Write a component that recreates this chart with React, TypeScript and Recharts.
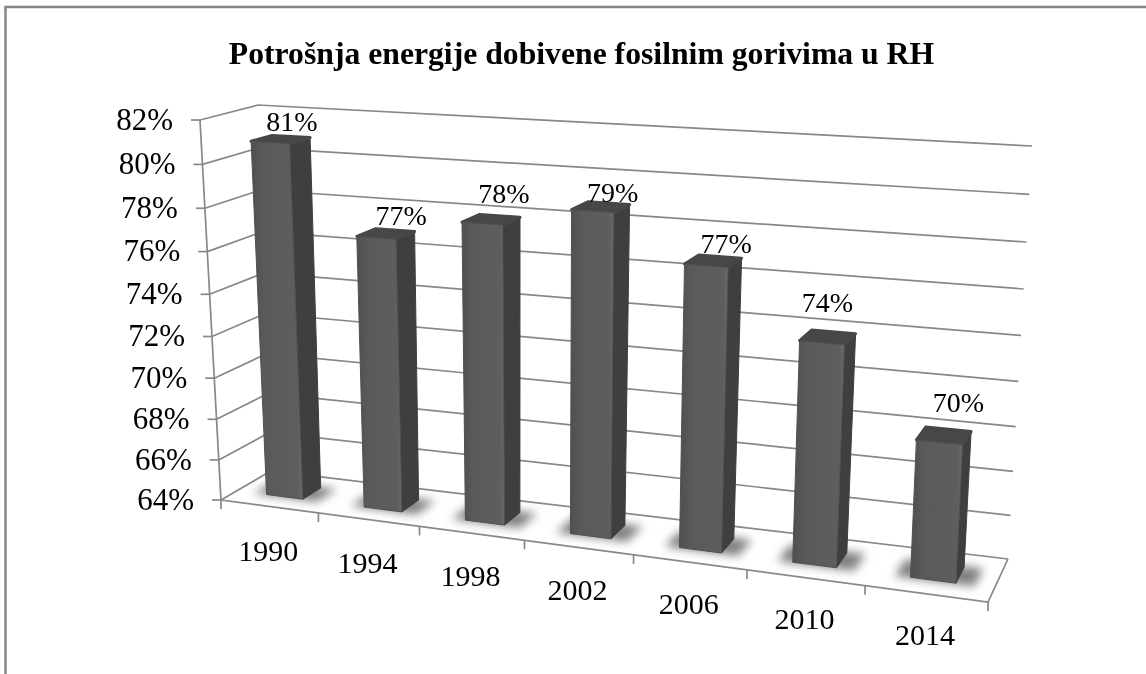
import React from 'react';
import { BarChart, Bar, XAxis, YAxis, CartesianGrid, LabelList } from 'recharts';

const years = ['1990', '1994', '1998', '2002', '2006', '2010', '2014'];
const shares = [80.9, 76.9, 77.9, 78.8, 76.8, 73.9, 70.1];
const yTicks = [64, 66, 68, 70, 72, 74, 76, 78, 80, 82];

const chartData = years.map((year, i) => ({ year, share: shares[i] }));

const W = 1146;
const H = 674;
// flat plot box that recharts scales into, we then project it onto the 3d box
const PLOT = { left: 100, top: 100, width: 800, height: 400 };
const LINE = '#888888';
const DEPTH_FRONT = 0.31;
const DEPTH_BACK = 0.68;

type Pt = [number, number];

// unit square -> quad homography
const quadMap = (p0: Pt, p1: Pt, p2: Pt, p3: Pt) => {
  const dx1 = p1[0] - p2[0];
  const dx2 = p3[0] - p2[0];
  const sx = p0[0] - p1[0] + p2[0] - p3[0];
  const dy1 = p1[1] - p2[1];
  const dy2 = p3[1] - p2[1];
  const sy = p0[1] - p1[1] + p2[1] - p3[1];
  const den = dx1 * dy2 - dx2 * dy1;
  const g = (sx * dy2 - dx2 * sy) / den;
  const h = (dx1 * sy - sx * dy1) / den;
  const a = p1[0] - p0[0] + g * p1[0];
  const b = p3[0] - p0[0] + h * p3[0];
  const d = p1[1] - p0[1] + g * p1[1];
  const e = p3[1] - p0[1] + h * p3[1];
  return (u: number, w: number): Pt => {
    const q = g * u + h * w + 1;
    return [(a * u + b * w + p0[0]) / q, (d * u + e * w + p0[1]) / q];
  };
};

const floorAt = quadMap([221, 500], [988, 602], [1008, 559], [271, 471]);
const ceilAt = quadMap([200, 120], [1009, 168], [1032, 146], [258, 105]);

const project = (uFlat: number, v: number, d: number): Pt => {
  const s = 1.133;
  const u = (s * uFlat) / (1 + (s - 1) * uFlat);
  const k = 0.944;
  const t = (k * v) / (1 + (k - 1) * v);
  const f = floorAt(u, d);
  const c = ceilAt(u, d);
  return [f[0] + (c[0] - f[0]) * t, f[1] + (c[1] - f[1]) * t];
};

const toU = (x: number) => (x - PLOT.left) / PLOT.width;
const toV = (y: number) => (PLOT.top + PLOT.height - y) / PLOT.height;
const poly = (pts: Pt[]) => pts.map((p) => `${p[0].toFixed(1)},${p[1].toFixed(1)}`).join(' ');

const GridLine = (p: any) => {
  const v = toV(p.y1);
  return (
    <polyline
      key={p.index}
      points={poly([project(0, v, 0), project(0, v, 1), project(1, v, 1)])}
      fill="none"
      stroke={LINE}
      strokeWidth={1.7}
    />
  );
};

const Box = () => {
  const bottomLeft = project(0, 0, 0);
  const bottomRight = project(1, 0, 0);
  return (
    <g>
      <defs>
        <linearGradient id="frontFace" x1="0" y1="0" x2="1" y2="0">
          <stop offset="0" stopColor="#4f4f4f" />
          <stop offset="0.25" stopColor="#5a5a5a" />
          <stop offset="0.9" stopColor="#5e5e5e" />
          <stop offset="1" stopColor="#6a6a6a" />
        </linearGradient>
        <filter id="soft" x="-40%" y="-60%" width="180%" height="220%">
          <feGaussianBlur stdDeviation="5" />
        </filter>
      </defs>
      {/* no fill here, the grid sits below this layer */}
      <rect x={5.5} y={7} width={W + 20} height={H + 20} fill="none" stroke="#868686" strokeWidth={2.5} />
      <polyline
        points={poly([project(0, 1, 0), bottomLeft, bottomRight, project(1, 0, 1)])}
        fill="none"
        stroke={LINE}
        strokeWidth={1.7}
      />
      {years.map((y, i) => {
        const p = project((i + 1) / years.length, 0, 0);
        return <line key={y} x1={p[0]} y1={p[1]} x2={p[0]} y2={p[1] + 9} stroke={LINE} strokeWidth={1.7} />;
      })}
      <line x1={bottomLeft[0]} y1={bottomLeft[1]} x2={bottomLeft[0]} y2={bottomLeft[1] + 9} stroke={LINE} strokeWidth={1.7} />
    </g>
  );
};

const Prism = (props: any) => {
  const { x, y, width } = props;
  const u0 = toU(x);
  const u1 = toU(x + width);
  const v = toV(y);
  const d0 = DEPTH_FRONT;
  const d1 = DEPTH_BACK;
  const shadow = [
    project(u0 - 0.018, 0, d0 - 0.02),
    project(u1 + 0.022, 0, d0 - 0.02),
    project(u1 + 0.022, 0, d1 + 0.03),
    project(u0 - 0.018, 0, d1 + 0.03),
  ];
  return (
    <g>
      <polygon points={poly(shadow)} fill="#808080" filter="url(#soft)" />
      <polygon
        points={poly([project(u1, 0, d0), project(u1, 0, d1), project(u1, v, d1), project(u1, v, d0)])}
        fill="#3f3f3f"
        stroke="#3f3f3f"
        strokeWidth={1}
        strokeLinejoin="round"
      />
      <polygon
        points={poly([project(u0, v, d0), project(u1, v, d0), project(u1, v, d1), project(u0, v, d1)])}
        fill="#474747"
        stroke="#474747"
        strokeWidth={3}
        strokeLinejoin="round"
      />
      <polygon
        points={poly([project(u0, 0, d0), project(u1, 0, d0), project(u1, v, d0), project(u0, v, d0)])}
        fill="url(#frontFace)"
        stroke="#505050"
        strokeWidth={1}
        strokeLinejoin="round"
      />
    </g>
  );
};

// excel let the labels be dragged about, so they do not sit at one fixed gap
const labelLift = [15, 15, 23, 11, 13, 30, 27];
const labelShift = [1, 6, 4, 4, 6, -6, 10];

const BarLabel = (props: any) => {
  const { x, y, width, value, index } = props;
  const p = project(toU(x + width / 2), toV(y), DEPTH_BACK);
  return (
    <text
      x={p[0] + labelShift[index]}
      y={p[1] - labelLift[index]}
      textAnchor="middle"
      dy="0.35em"
      fontSize={28}
      fontFamily='"Liberation Serif"'
      fill="#000"
    >
      {Math.round(value)}%
    </text>
  );
};

const YearTick = (props: any) => {
  const { x, payload } = props;
  const u = toU(x);
  const p = project(u, 0, 0);
  return (
    <text
      x={p[0] - 1}
      y={p[1] + 44 - 4 * u}
      textAnchor="middle"
      dy="0.35em"
      fontSize={30}
      fontFamily='"Liberation Serif"'
      fill="#000"
    >
      {payload.value}
    </text>
  );
};

const ShareTick = (props: any) => {
  const { y, payload } = props;
  const v = toV(y);
  const p = project(0, v, 0);
  return (
    <g>
      <line x1={p[0] - 9} y1={p[1]} x2={p[0]} y2={p[1]} stroke={LINE} strokeWidth={1.7} />
      <text
        x={p[0] - 27}
        y={p[1] - 1}
        textAnchor="end"
        dy="0.35em"
        fontSize={31}
        fontFamily='"Liberation Serif"'
        fill="#000"
      >
        {payload.value}%
      </text>
    </g>
  );
};

export default function App() {
  return (
    <div
      style={{
        position: 'absolute',
        left: 0,
        top: 0,
        width: W,
        height: H,
        overflow: 'hidden',
        background: '#fff',
        filter: 'blur(0.5px)',
      }}
    >
      <BarChart
        width={W}
        height={H}
        data={chartData}
        barCategoryGap="31%"
        margin={{
          top: PLOT.top,
          left: PLOT.left - 1,
          right: W - PLOT.left - PLOT.width,
          bottom: H - PLOT.top - PLOT.height - 1,
        }}
      >
        <Box />
        <CartesianGrid horizontal={GridLine} vertical={false} />
        <XAxis dataKey="year" height={1} axisLine={false} tickLine={false} interval={0} tick={YearTick} />
        <YAxis
          width={1}
          domain={[64, 82]}
          ticks={yTicks}
          interval={0}
          axisLine={false}
          tickLine={false}
          tick={ShareTick}
        />
        <Bar dataKey="share" shape={Prism} isAnimationActive={false}>
          <LabelList dataKey="share" content={BarLabel} />
        </Bar>
        <text
          x={581.5}
          y={53}
          textAnchor="middle"
          dy="0.35em"
          fontSize={31.7}
          fontWeight="bold"
          fontFamily='"Liberation Serif"'
          fill="#000"
        >
          Potrošnja energije dobivene fosilnim gorivima u RH
        </text>
      </BarChart>
    </div>
  );
}
